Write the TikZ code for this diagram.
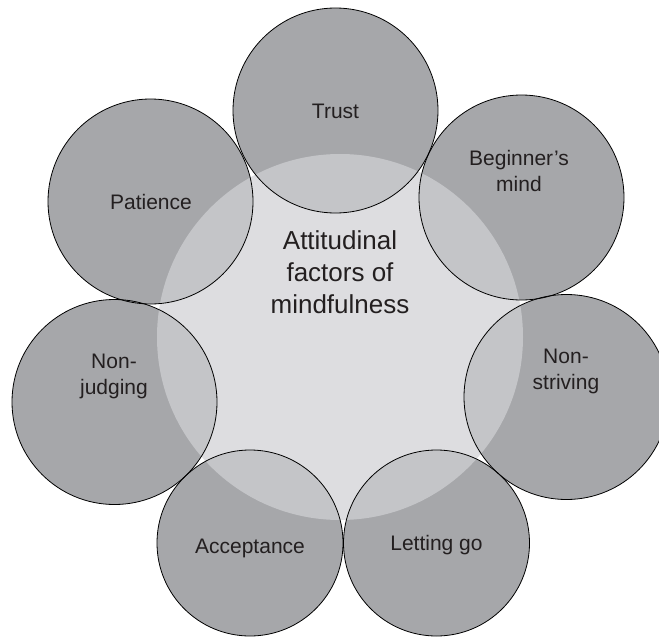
\documentclass[tikz,border=0pt]{standalone}
\usepackage{fontspec}
\setmainfont{Liberation Sans}
\definecolor{outergray}{HTML}{A6A7AA}
\definecolor{coregray}{HTML}{D0D1D4}
\definecolor{inkgray}{HTML}{231F20}
\begin{document}
\begin{tikzpicture}[x=1pt,y=-1pt,
  outerfill/.style={circle,inner sep=0pt,minimum size=#1,fill=outergray},
  coredisc/.style={circle,inner sep=0pt,minimum size=366pt,fill=coregray,fill opacity=0.73},
  rim/.style={draw=black,line width=0.8pt},
  lbl/.style={anchor=base,align=center,text=inkgray,font=\fontsize{21}{26}\selectfont},
  corelbl/.style={anchor=base,align=center,text=inkgray,font=\fontsize{26}{32}\selectfont}]
\clip (0,0) rectangle (659,637);
% outer discs
\node[outerfill=205pt] (trust) at (335.5,110.5) {};
\node[outerfill=205pt] (begin) at (521.5,197.5) {};
\node[outerfill=205pt] (strive) at (566.5,397) {};
\node[outerfill=186pt] (letgo) at (436.5,543) {};
\node[outerfill=186pt] (accept) at (250,543) {};
\node[outerfill=205pt] (judge) at (114.5,402) {};
\node[outerfill=205pt] (patience) at (150.5,201.5) {};
% central disc
\node[coredisc] (core) at (340,337) {};
% outlines
\draw[rim] (trust) circle[radius=102.5];
\draw[rim] (begin) circle[radius=102.5];
\draw[rim] (strive) circle[radius=102.5];
\draw[rim] (letgo) circle[radius=93];
\draw[rim] (accept) circle[radius=93];
\draw[rim] (judge) circle[radius=102.5];
\draw[rim] (patience) circle[radius=102.5];
% labels
\node[lbl] (ttrust) at (335.5,118) {Trust};
\node[lbl] (tbegin) at (519,191) {Beginner’s\\mind};
\node[lbl] (tstrive) at (566,389) {Non-\\striving};
\node[lbl] (tletgo) at (436.5,550) {Letting go};
\node[lbl] (taccept) at (250,553) {Acceptance};
\node[lbl] (tjudge) at (114,394) {Non-\\judging};
\node[lbl] (tpatience) at (151,209) {Patience};
\node[corelbl] (tcore) at (340,313) {Attitudinal\\factors of\\mindfulness};
\end{tikzpicture}
\end{document}
